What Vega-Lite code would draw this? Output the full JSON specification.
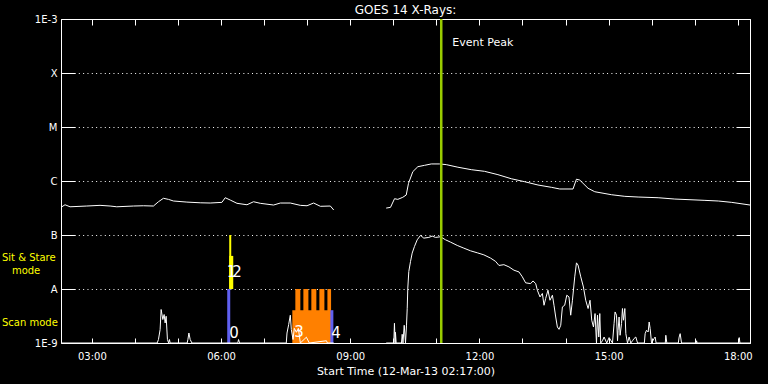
{
  "$schema": "https://vega.github.io/schema/vega-lite/v6.json",
  "width": 689,
  "height": 324,
  "autosize": "none",
  "padding": {"left": 61, "top": 19, "right": 18, "bottom": 41},
  "background": "black",
  "title": {"text": "GOES 14 X-Rays:", "color": "white", "font": "DejaVu Sans", "fontSize": 12, "fontWeight": "normal", "anchor": "middle", "offset": -3},
  "config": {
    "view": {"stroke": "white", "strokeWidth": 1, "fill": "black"},
    "axis": {"domain": false, "tickColor": "white", "tickWidth": 1, "labelColor": "white", "labelFont": "DejaVu Sans", "labelFontSize": 10, "titleColor": "white", "titleFont": "DejaVu Sans", "titleFontWeight": "normal", "titleFontSize": 11, "labelOverlap": false, "labelFlush": false, "labelBound": false}
  },
  "datasets": {
    "bars": [
      {"t": "2013-03-12T06:08:36Z", "t2": "2013-03-12T06:12:48Z", "v": 1e-9, "v2": 1e-8, "kind": "scan"},
      {"t": "2013-03-12T06:11:24Z", "t2": "2013-03-12T06:14:12Z", "v": 1e-8, "v2": 1e-7, "kind": "sit-stare"},
      {"t": "2013-03-12T06:11:24Z", "t2": "2013-03-12T06:17:00Z", "v": 1e-8, "v2": 4.1e-8, "kind": "sit-stare"},
      {"t": "2013-03-12T07:39:18Z", "t2": "2013-03-12T08:32:18Z", "v": 1e-9, "v2": 4.05e-9, "kind": "multi"},
      {"t": "2013-03-12T07:43:30Z", "t2": "2013-03-12T07:50:30Z", "v": 1e-9, "v2": 1e-8, "kind": "multi"},
      {"t": "2013-03-12T07:54:42Z", "t2": "2013-03-12T08:01:42Z", "v": 1e-9, "v2": 1e-8, "kind": "multi"},
      {"t": "2013-03-12T08:05:48Z", "t2": "2013-03-12T08:12:48Z", "v": 1e-9, "v2": 1e-8, "kind": "multi"},
      {"t": "2013-03-12T08:17:00Z", "t2": "2013-03-12T08:24:00Z", "v": 1e-9, "v2": 1e-8, "kind": "multi"},
      {"t": "2013-03-12T08:28:12Z", "t2": "2013-03-12T08:33:18Z", "v": 1e-9, "v2": 1e-8, "kind": "multi"},
      {"t": "2013-03-12T08:32:18Z", "t2": "2013-03-12T08:36:30Z", "v": 1e-9, "v2": 4.05e-9, "kind": "scan"}
    ],
    "flux": [
      {"t": "2013-03-12T02:17:00Z", "v": 3.25e-7, "seg": "long-1"},
      {"t": "2013-03-12T02:22:36Z", "v": 3.63e-7, "seg": "long-1"},
      {"t": "2013-03-12T02:29:36Z", "v": 3.33e-7, "seg": "long-1"},
      {"t": "2013-03-12T02:52:54Z", "v": 3.44e-7, "seg": "long-1"},
      {"t": "2013-03-12T03:11:24Z", "v": 3.54e-7, "seg": "long-1"},
      {"t": "2013-03-12T03:25:24Z", "v": 3.44e-7, "seg": "long-1"},
      {"t": "2013-03-12T03:34:42Z", "v": 3.33e-7, "seg": "long-1"},
      {"t": "2013-03-12T03:57:54Z", "v": 3.44e-7, "seg": "long-1"},
      {"t": "2013-03-12T04:11:48Z", "v": 3.48e-7, "seg": "long-1"},
      {"t": "2013-03-12T04:25:48Z", "v": 3.44e-7, "seg": "long-1"},
      {"t": "2013-03-12T04:32:48Z", "v": 4.13e-7, "seg": "long-1"},
      {"t": "2013-03-12T04:39:42Z", "v": 4.78e-7, "seg": "long-1"},
      {"t": "2013-03-12T04:46:42Z", "v": 4.57e-7, "seg": "long-1"},
      {"t": "2013-03-12T04:53:42Z", "v": 4.26e-7, "seg": "long-1"},
      {"t": "2013-03-12T05:12:24Z", "v": 4.07e-7, "seg": "long-1"},
      {"t": "2013-03-12T05:31:00Z", "v": 3.95e-7, "seg": "long-1"},
      {"t": "2013-03-12T05:44:54Z", "v": 3.91e-7, "seg": "long-1"},
      {"t": "2013-03-12T06:01:12Z", "v": 4.02e-7, "seg": "long-1"},
      {"t": "2013-03-12T06:05:48Z", "v": 4.90e-7, "seg": "long-1"},
      {"t": "2013-03-12T06:12:48Z", "v": 4.44e-7, "seg": "long-1"},
      {"t": "2013-03-12T06:22:12Z", "v": 3.86e-7, "seg": "long-1"},
      {"t": "2013-03-12T06:36:06Z", "v": 3.63e-7, "seg": "long-1"},
      {"t": "2013-03-12T06:45:18Z", "v": 4.13e-7, "seg": "long-1"},
      {"t": "2013-03-12T06:54:42Z", "v": 3.86e-7, "seg": "long-1"},
      {"t": "2013-03-12T07:13:12Z", "v": 3.59e-7, "seg": "long-1"},
      {"t": "2013-03-12T07:22:36Z", "v": 3.91e-7, "seg": "long-1"},
      {"t": "2013-03-12T07:36:30Z", "v": 3.91e-7, "seg": "long-1"},
      {"t": "2013-03-12T07:50:30Z", "v": 3.54e-7, "seg": "long-1"},
      {"t": "2013-03-12T07:59:48Z", "v": 3.48e-7, "seg": "long-1"},
      {"t": "2013-03-12T08:09:00Z", "v": 3.91e-7, "seg": "long-1"},
      {"t": "2013-03-12T08:18:24Z", "v": 3.40e-7, "seg": "long-1"},
      {"t": "2013-03-12T08:32:18Z", "v": 3.44e-7, "seg": "long-1"},
      {"t": "2013-03-12T08:37:00Z", "v": 2.90e-7, "seg": "long-1"},
      {"t": "2013-03-12T09:50:06Z", "v": 3.15e-7, "seg": "long-2"},
      {"t": "2013-03-12T09:56:06Z", "v": 3.25e-7, "seg": "long-2"},
      {"t": "2013-03-12T10:01:42Z", "v": 4.70e-7, "seg": "long-2"},
      {"t": "2013-03-12T10:06:18Z", "v": 4.57e-7, "seg": "long-2"},
      {"t": "2013-03-12T10:13:12Z", "v": 4.99e-7, "seg": "long-2"},
      {"t": "2013-03-12T10:18:00Z", "v": 5.50e-7, "seg": "long-2"},
      {"t": "2013-03-12T10:21:12Z", "v": 9.06e-7, "seg": "long-2"},
      {"t": "2013-03-12T10:27:12Z", "v": 1.49e-6, "seg": "long-2"},
      {"t": "2013-03-12T10:34:12Z", "v": 1.84e-6, "seg": "long-2"},
      {"t": "2013-03-12T10:43:30Z", "v": 1.95e-6, "seg": "long-2"},
      {"t": "2013-03-12T10:52:54Z", "v": 2.07e-6, "seg": "long-2"},
      {"t": "2013-03-12T11:04:24Z", "v": 2.07e-6, "seg": "long-2"},
      {"t": "2013-03-12T11:13:48Z", "v": 2.01e-6, "seg": "long-2"},
      {"t": "2013-03-12T11:30:00Z", "v": 1.80e-6, "seg": "long-2"},
      {"t": "2013-03-12T11:48:42Z", "v": 1.62e-6, "seg": "long-2"},
      {"t": "2013-03-12T12:07:12Z", "v": 1.51e-6, "seg": "long-2"},
      {"t": "2013-03-12T12:25:48Z", "v": 1.31e-6, "seg": "long-2"},
      {"t": "2013-03-12T12:44:30Z", "v": 1.10e-6, "seg": "long-2"},
      {"t": "2013-03-12T13:03:00Z", "v": 9.7e-7, "seg": "long-2"},
      {"t": "2013-03-12T13:21:36Z", "v": 8.43e-7, "seg": "long-2"},
      {"t": "2013-03-12T13:40:18Z", "v": 7.64e-7, "seg": "long-2"},
      {"t": "2013-03-12T13:51:54Z", "v": 7.11e-7, "seg": "long-2"},
      {"t": "2013-03-12T14:10:24Z", "v": 7.11e-7, "seg": "long-2"},
      {"t": "2013-03-12T14:15:12Z", "v": 1.08e-6, "seg": "long-2"},
      {"t": "2013-03-12T14:19:48Z", "v": 1.04e-6, "seg": "long-2"},
      {"t": "2013-03-12T14:31:24Z", "v": 7.33e-7, "seg": "long-2"},
      {"t": "2013-03-12T14:40:42Z", "v": 6.33e-7, "seg": "long-2"},
      {"t": "2013-03-12T15:04:00Z", "v": 5.57e-7, "seg": "long-2"},
      {"t": "2013-03-12T15:22:36Z", "v": 5.20e-7, "seg": "long-2"},
      {"t": "2013-03-12T15:41:06Z", "v": 5.05e-7, "seg": "long-2"},
      {"t": "2013-03-12T16:09:00Z", "v": 4.90e-7, "seg": "long-2"},
      {"t": "2013-03-12T16:32:18Z", "v": 4.63e-7, "seg": "long-2"},
      {"t": "2013-03-12T17:14:12Z", "v": 4.38e-7, "seg": "long-2"},
      {"t": "2013-03-12T17:32:48Z", "v": 4.26e-7, "seg": "long-2"},
      {"t": "2013-03-12T17:51:30Z", "v": 4.02e-7, "seg": "long-2"},
      {"t": "2013-03-12T18:17:00Z", "v": 3.59e-7, "seg": "long-2"},
      {"t": "2013-03-12T02:17:00Z", "v": 1e-9, "seg": "short-1"},
      {"t": "2013-03-12T04:31:00Z", "v": 1e-9, "seg": "short-1"},
      {"t": "2013-03-12T04:32:48Z", "v": 1.16e-9, "seg": "short-1"},
      {"t": "2013-03-12T04:35:06Z", "v": 1.77e-9, "seg": "short-1"},
      {"t": "2013-03-12T04:36:30Z", "v": 4.17e-9, "seg": "short-1"},
      {"t": "2013-03-12T04:38:54Z", "v": 2.72e-9, "seg": "short-1"},
      {"t": "2013-03-12T04:40:42Z", "v": 3.37e-9, "seg": "short-1"},
      {"t": "2013-03-12T04:42:06Z", "v": 2.35e-9, "seg": "short-1"},
      {"t": "2013-03-12T04:43:30Z", "v": 3.13e-9, "seg": "short-1"},
      {"t": "2013-03-12T04:45:18Z", "v": 1.16e-9, "seg": "short-1"},
      {"t": "2013-03-12T04:47:00Z", "v": 1e-9, "seg": "short-1"},
      {"t": "2013-03-12T04:48:06Z", "v": 1.16e-9, "seg": "short-1"},
      {"t": "2013-03-12T04:49:06Z", "v": 1e-9, "seg": "short-1"},
      {"t": "2013-03-12T05:12:48Z", "v": 1e-9, "seg": "short-1"},
      {"t": "2013-03-12T05:13:48Z", "v": 1.16e-9, "seg": "short-1"},
      {"t": "2013-03-12T05:15:12Z", "v": 1.53e-9, "seg": "short-1"},
      {"t": "2013-03-12T05:17:00Z", "v": 1.16e-9, "seg": "short-1"},
      {"t": "2013-03-12T05:19:24Z", "v": 1e-9, "seg": "short-1"},
      {"t": "2013-03-12T06:23:18Z", "v": 1e-9, "seg": "short-1"},
      {"t": "2013-03-12T06:24:24Z", "v": 1.16e-9, "seg": "short-1"},
      {"t": "2013-03-12T06:25:48Z", "v": 1e-9, "seg": "short-1"},
      {"t": "2013-03-12T07:30:54Z", "v": 1e-9, "seg": "short-1"},
      {"t": "2013-03-12T07:31:54Z", "v": 1.53e-9, "seg": "short-1"},
      {"t": "2013-03-12T07:34:12Z", "v": 2.19e-9, "seg": "short-1"},
      {"t": "2013-03-12T07:36:30Z", "v": 3.27e-9, "seg": "short-1"},
      {"t": "2013-03-12T07:37:54Z", "v": 1.77e-9, "seg": "short-1"},
      {"t": "2013-03-12T07:40:18Z", "v": 1.16e-9, "seg": "short-1"},
      {"t": "2013-03-12T07:42:06Z", "v": 1.87e-9, "seg": "short-1"},
      {"t": "2013-03-12T07:44:54Z", "v": 1.58e-9, "seg": "short-1"},
      {"t": "2013-03-12T07:47:42Z", "v": 1.87e-9, "seg": "short-1"},
      {"t": "2013-03-12T07:50:30Z", "v": 1e-9, "seg": "short-1"},
      {"t": "2013-03-12T07:58:54Z", "v": 1.28e-9, "seg": "short-1"},
      {"t": "2013-03-12T08:03:00Z", "v": 1e-9, "seg": "short-1"},
      {"t": "2013-03-12T08:26:48Z", "v": 1.1e-9, "seg": "short-1"},
      {"t": "2013-03-12T08:28:12Z", "v": 1e-9, "seg": "short-1"},
      {"t": "2013-03-12T08:37:00Z", "v": 1e-9, "seg": "short-1"},
      {"t": "2013-03-12T09:50:06Z", "v": 1e-9, "seg": "short-2"},
      {"t": "2013-03-12T10:00:42Z", "v": 1e-9, "seg": "short-2"},
      {"t": "2013-03-12T10:01:36Z", "v": 2.32e-9, "seg": "short-2"},
      {"t": "2013-03-12T10:02:36Z", "v": 1e-9, "seg": "short-2"},
      {"t": "2013-03-12T10:03:00Z", "v": 1.58e-9, "seg": "short-2"},
      {"t": "2013-03-12T10:04:00Z", "v": 1e-9, "seg": "short-2"},
      {"t": "2013-03-12T10:11:24Z", "v": 1e-9, "seg": "short-2"},
      {"t": "2013-03-12T10:12:24Z", "v": 1.45e-9, "seg": "short-2"},
      {"t": "2013-03-12T10:13:30Z", "v": 1e-9, "seg": "short-2"},
      {"t": "2013-03-12T10:15:12Z", "v": 2.13e-9, "seg": "short-2"},
      {"t": "2013-03-12T10:17:00Z", "v": 1e-9, "seg": "short-2"},
      {"t": "2013-03-12T10:18:24Z", "v": 2.14e-9, "seg": "short-2"},
      {"t": "2013-03-12T10:19:24Z", "v": 4.4e-9, "seg": "short-2"},
      {"t": "2013-03-12T10:20:12Z", "v": 1.04e-8, "seg": "short-2"},
      {"t": "2013-03-12T10:21:36Z", "v": 2.11e-8, "seg": "short-2"},
      {"t": "2013-03-12T10:24:00Z", "v": 3.24e-8, "seg": "short-2"},
      {"t": "2013-03-12T10:26:18Z", "v": 4.62e-8, "seg": "short-2"},
      {"t": "2013-03-12T10:29:30Z", "v": 6.14e-8, "seg": "short-2"},
      {"t": "2013-03-12T10:33:18Z", "v": 8.14e-8, "seg": "short-2"},
      {"t": "2013-03-12T10:37:54Z", "v": 9.84e-8, "seg": "short-2"},
      {"t": "2013-03-12T10:42:30Z", "v": 8.75e-8, "seg": "short-2"},
      {"t": "2013-03-12T10:49:30Z", "v": 9.02e-8, "seg": "short-2"},
      {"t": "2013-03-12T10:54:12Z", "v": 9.54e-8, "seg": "short-2"},
      {"t": "2013-03-12T10:58:48Z", "v": 9.02e-8, "seg": "short-2"},
      {"t": "2013-03-12T11:05:48Z", "v": 9.27e-8, "seg": "short-2"},
      {"t": "2013-03-12T11:12:48Z", "v": 8.14e-8, "seg": "short-2"},
      {"t": "2013-03-12T11:19:48Z", "v": 7.38e-8, "seg": "short-2"},
      {"t": "2013-03-12T11:29:06Z", "v": 6.41e-8, "seg": "short-2"},
      {"t": "2013-03-12T11:38:18Z", "v": 5.71e-8, "seg": "short-2"},
      {"t": "2013-03-12T11:47:42Z", "v": 5.09e-8, "seg": "short-2"},
      {"t": "2013-03-12T11:57:00Z", "v": 4.68e-8, "seg": "short-2"},
      {"t": "2013-03-12T12:06:12Z", "v": 4.29e-8, "seg": "short-2"},
      {"t": "2013-03-12T12:15:36Z", "v": 3.73e-8, "seg": "short-2"},
      {"t": "2013-03-12T12:22:36Z", "v": 3.24e-8, "seg": "short-2"},
      {"t": "2013-03-12T12:27:12Z", "v": 2.73e-8, "seg": "short-2"},
      {"t": "2013-03-12T12:34:06Z", "v": 2.82e-8, "seg": "short-2"},
      {"t": "2013-03-12T12:41:06Z", "v": 2.57e-8, "seg": "short-2"},
      {"t": "2013-03-12T12:48:06Z", "v": 2.23e-8, "seg": "short-2"},
      {"t": "2013-03-12T12:55:06Z", "v": 2.07e-8, "seg": "short-2"},
      {"t": "2013-03-12T12:59:48Z", "v": 1.68e-8, "seg": "short-2"},
      {"t": "2013-03-12T13:04:24Z", "v": 1.30e-8, "seg": "short-2"},
      {"t": "2013-03-12T13:11:24Z", "v": 1.26e-8, "seg": "short-2"},
      {"t": "2013-03-12T13:14:36Z", "v": 1.41e-8, "seg": "short-2"},
      {"t": "2013-03-12T13:18:24Z", "v": 1.26e-8, "seg": "short-2"},
      {"t": "2013-03-12T13:20:42Z", "v": 9.5e-9, "seg": "short-2"},
      {"t": "2013-03-12T13:24:24Z", "v": 7.13e-9, "seg": "short-2"},
      {"t": "2013-03-12T13:27:42Z", "v": 8.26e-9, "seg": "short-2"},
      {"t": "2013-03-12T13:30:00Z", "v": 5.0e-9, "seg": "short-2"},
      {"t": "2013-03-12T13:32:18Z", "v": 6.67e-9, "seg": "short-2"},
      {"t": "2013-03-12T13:35:30Z", "v": 9.5e-9, "seg": "short-2"},
      {"t": "2013-03-12T13:38:18Z", "v": 6.19e-9, "seg": "short-2"},
      {"t": "2013-03-12T13:41:42Z", "v": 7.67e-9, "seg": "short-2"},
      {"t": "2013-03-12T13:43:54Z", "v": 5.0e-9, "seg": "short-2"},
      {"t": "2013-03-12T13:46:18Z", "v": 3.03e-9, "seg": "short-2"},
      {"t": "2013-03-12T13:48:36Z", "v": 1.98e-9, "seg": "short-2"},
      {"t": "2013-03-12T13:50:54Z", "v": 1.79e-9, "seg": "short-2"},
      {"t": "2013-03-12T13:53:18Z", "v": 2.13e-9, "seg": "short-2"},
      {"t": "2013-03-12T13:55:36Z", "v": 4.66e-9, "seg": "short-2"},
      {"t": "2013-03-12T13:58:48Z", "v": 5.0e-9, "seg": "short-2"},
      {"t": "2013-03-12T14:01:42Z", "v": 7.67e-9, "seg": "short-2"},
      {"t": "2013-03-12T14:04:48Z", "v": 7.13e-9, "seg": "short-2"},
      {"t": "2013-03-12T14:07:12Z", "v": 3.27e-9, "seg": "short-2"},
      {"t": "2013-03-12T14:09:36Z", "v": 6.19e-9, "seg": "short-2"},
      {"t": "2013-03-12T14:12:48Z", "v": 1.68e-8, "seg": "short-2"},
      {"t": "2013-03-12T14:15:12Z", "v": 3.05e-8, "seg": "short-2"},
      {"t": "2013-03-12T14:17:24Z", "v": 2.77e-8, "seg": "short-2"},
      {"t": "2013-03-12T14:21:12Z", "v": 1.68e-8, "seg": "short-2"},
      {"t": "2013-03-12T14:24:54Z", "v": 1.09e-8, "seg": "short-2"},
      {"t": "2013-03-12T14:28:06Z", "v": 6.19e-9, "seg": "short-2"},
      {"t": "2013-03-12T14:31:24Z", "v": 4.35e-9, "seg": "short-2"},
      {"t": "2013-03-12T14:34:06Z", "v": 6.19e-9, "seg": "short-2"},
      {"t": "2013-03-12T14:36:30Z", "v": 2.64e-9, "seg": "short-2"},
      {"t": "2013-03-12T14:38:54Z", "v": 1.98e-9, "seg": "short-2"},
      {"t": "2013-03-12T14:41:06Z", "v": 3.51e-9, "seg": "short-2"},
      {"t": "2013-03-12T14:43:06Z", "v": 1e-9, "seg": "short-2"},
      {"t": "2013-03-12T14:44:30Z", "v": 3.27e-9, "seg": "short-2"},
      {"t": "2013-03-12T14:46:18Z", "v": 1.29e-9, "seg": "short-2"},
      {"t": "2013-03-12T14:47:42Z", "v": 3.51e-9, "seg": "short-2"},
      {"t": "2013-03-12T14:49:00Z", "v": 1e-9, "seg": "short-2"},
      {"t": "2013-03-12T14:51:24Z", "v": 1.1e-9, "seg": "short-2"},
      {"t": "2013-03-12T14:53:42Z", "v": 1.29e-9, "seg": "short-2"},
      {"t": "2013-03-12T14:57:24Z", "v": 1e-9, "seg": "short-2"},
      {"t": "2013-03-12T15:00:42Z", "v": 1.26e-9, "seg": "short-2"},
      {"t": "2013-03-12T15:05:24Z", "v": 1e-9, "seg": "short-2"},
      {"t": "2013-03-12T15:07:36Z", "v": 2.29e-9, "seg": "short-2"},
      {"t": "2013-03-12T15:09:00Z", "v": 3.76e-9, "seg": "short-2"},
      {"t": "2013-03-12T15:11:00Z", "v": 3.27e-9, "seg": "short-2"},
      {"t": "2013-03-12T15:12:24Z", "v": 1.1e-9, "seg": "short-2"},
      {"t": "2013-03-12T15:13:12Z", "v": 1.72e-9, "seg": "short-2"},
      {"t": "2013-03-12T15:14:36Z", "v": 3.03e-9, "seg": "short-2"},
      {"t": "2013-03-12T15:16:00Z", "v": 1.39e-9, "seg": "short-2"},
      {"t": "2013-03-12T15:18:00Z", "v": 2.29e-9, "seg": "short-2"},
      {"t": "2013-03-12T15:19:18Z", "v": 4.35e-9, "seg": "short-2"},
      {"t": "2013-03-12T15:20:42Z", "v": 2.64e-9, "seg": "short-2"},
      {"t": "2013-03-12T15:22:36Z", "v": 4.35e-9, "seg": "short-2"},
      {"t": "2013-03-12T15:24:00Z", "v": 1.49e-9, "seg": "short-2"},
      {"t": "2013-03-12T15:26:18Z", "v": 1e-9, "seg": "short-2"},
      {"t": "2013-03-12T15:28:36Z", "v": 1.29e-9, "seg": "short-2"},
      {"t": "2013-03-12T15:30:54Z", "v": 1e-9, "seg": "short-2"},
      {"t": "2013-03-12T15:33:18Z", "v": 1.1e-9, "seg": "short-2"},
      {"t": "2013-03-12T15:35:30Z", "v": 1.21e-9, "seg": "short-2"},
      {"t": "2013-03-12T15:37:54Z", "v": 1.29e-9, "seg": "short-2"},
      {"t": "2013-03-12T15:40:18Z", "v": 1e-9, "seg": "short-2"},
      {"t": "2013-03-12T15:49:48Z", "v": 1e-9, "seg": "short-2"},
      {"t": "2013-03-12T15:50:54Z", "v": 1.49e-9, "seg": "short-2"},
      {"t": "2013-03-12T15:52:48Z", "v": 1.72e-9, "seg": "short-2"},
      {"t": "2013-03-12T15:55:06Z", "v": 1.6e-9, "seg": "short-2"},
      {"t": "2013-03-12T15:56:30Z", "v": 2.45e-9, "seg": "short-2"},
      {"t": "2013-03-12T15:57:54Z", "v": 1.85e-9, "seg": "short-2"},
      {"t": "2013-03-12T15:59:48Z", "v": 1e-9, "seg": "short-2"},
      {"t": "2013-03-12T16:03:24Z", "v": 1.21e-9, "seg": "short-2"},
      {"t": "2013-03-12T16:04:48Z", "v": 1.29e-9, "seg": "short-2"},
      {"t": "2013-03-12T16:06:12Z", "v": 1e-9, "seg": "short-2"},
      {"t": "2013-03-12T16:19:00Z", "v": 1e-9, "seg": "short-2"},
      {"t": "2013-03-12T16:19:42Z", "v": 1.39e-9, "seg": "short-2"},
      {"t": "2013-03-12T16:21:06Z", "v": 1e-9, "seg": "short-2"},
      {"t": "2013-03-12T16:37:06Z", "v": 1e-9, "seg": "short-2"},
      {"t": "2013-03-12T16:38:18Z", "v": 1.29e-9, "seg": "short-2"},
      {"t": "2013-03-12T16:39:42Z", "v": 1.49e-9, "seg": "short-2"},
      {"t": "2013-03-12T16:41:36Z", "v": 1e-9, "seg": "short-2"},
      {"t": "2013-03-12T17:02:00Z", "v": 1e-9, "seg": "short-2"},
      {"t": "2013-03-12T17:02:36Z", "v": 1.1e-9, "seg": "short-2"},
      {"t": "2013-03-12T17:03:12Z", "v": 1e-9, "seg": "short-2"},
      {"t": "2013-03-12T18:01:36Z", "v": 1e-9, "seg": "short-2"},
      {"t": "2013-03-12T18:02:00Z", "v": 1.26e-9, "seg": "short-2"},
      {"t": "2013-03-12T18:03:00Z", "v": 1e-9, "seg": "short-2"},
      {"t": "2013-03-12T18:17:00Z", "v": 1e-9, "seg": "short-2"}
    ],
    "event": [{"t": "2013-03-12T11:06:48Z"}],
    "eventLabel": [{"t": "2013-03-12T11:22:06Z", "v": 3.63e-4, "label": "Event Peak"}],
    "nums": [
      {"t": "2013-03-12T06:11:24Z", "v": 1.53e-9, "label": "0"},
      {"t": "2013-03-12T06:07:54Z", "v": 2.07e-8, "label": "1"},
      {"t": "2013-03-12T06:15:36Z", "v": 2.07e-8, "label": "2"},
      {"t": "2013-03-12T07:42:06Z", "v": 1.6e-9, "label": "3"},
      {"t": "2013-03-12T08:33:42Z", "v": 1.55e-9, "label": "4"}
    ],
    "modes": [
      {"t": "2013-03-12T00:54:42Z", "v": 3.73e-8, "label": "Sit & Stare"},
      {"t": "2013-03-12T01:08:36Z", "v": 2.14e-8, "label": "mode"},
      {"t": "2013-03-12T00:54:42Z", "v": 2.32e-9, "label": "Scan mode"}
    ]
  },
  "layer": [
    {
      "data": {"name": "bars"},
      "mark": {"type": "rect"},
      "encoding": {
        "x": {"field": "t", "type": "temporal",
          "scale": {"type": "utc", "domain": [{"year": 2013, "month": 3, "date": 12, "hours": 2, "minutes": 17, "utc": true}, {"year": 2013, "month": 3, "date": 12, "hours": 18, "minutes": 17, "utc": true}]},
          "axis": {"orient": "bottom", "title": "Start Time (12-Mar-13 02:17:00)", "grid": false, "tickSize": -5, "labelPadding": 13, "titlePadding": 4,
            "values": [
              {"year": 2013, "month": 3, "date": 12, "hours": 3, "utc": true},
              {"year": 2013, "month": 3, "date": 12, "hours": 4, "utc": true},
              {"year": 2013, "month": 3, "date": 12, "hours": 5, "utc": true},
              {"year": 2013, "month": 3, "date": 12, "hours": 6, "utc": true},
              {"year": 2013, "month": 3, "date": 12, "hours": 7, "utc": true},
              {"year": 2013, "month": 3, "date": 12, "hours": 8, "utc": true},
              {"year": 2013, "month": 3, "date": 12, "hours": 9, "utc": true},
              {"year": 2013, "month": 3, "date": 12, "hours": 10, "utc": true},
              {"year": 2013, "month": 3, "date": 12, "hours": 11, "utc": true},
              {"year": 2013, "month": 3, "date": 12, "hours": 12, "utc": true},
              {"year": 2013, "month": 3, "date": 12, "hours": 13, "utc": true},
              {"year": 2013, "month": 3, "date": 12, "hours": 14, "utc": true},
              {"year": 2013, "month": 3, "date": 12, "hours": 15, "utc": true},
              {"year": 2013, "month": 3, "date": 12, "hours": 16, "utc": true},
              {"year": 2013, "month": 3, "date": 12, "hours": 17, "utc": true},
              {"year": 2013, "month": 3, "date": 12, "hours": 18, "utc": true}
            ],
            "labelExpr": "utchours(datum.value) % 3 == 0 ? utcFormat(datum.value, '%H:%M') : ''"}},
        "x2": {"field": "t2"},
        "y": {"field": "v", "type": "quantitative",
          "scale": {"type": "log", "domain": [1e-9, 1e-3], "nice": false},
          "axis": {"orient": "left", "title": null, "values": [1e-9, 1e-8, 1e-7, 1e-6, 1e-5, 1e-4, 1e-3], "tickSize": -14, "labelPadding": 18,
            "grid": true, "gridColor": "white", "gridOpacity": 1, "gridDash": [1, 3.33],
            "labelExpr": "['1E-9','A','B','C','M','X','1E-3'][round(log(datum.value)/LN10)+9]"}},
        "y2": {"field": "v2"},
        "color": {"field": "kind", "type": "nominal", "legend": null,
          "scale": {"domain": ["scan", "sit-stare", "multi"], "range": ["#6060f0", "#ffff00", "#ff8000"]}}
      }
    },
    {
      "data": {"name": "flux"},
      "mark": {"type": "line", "color": "white", "strokeWidth": 1, "clip": true},
      "encoding": {
        "x": {"field": "t", "type": "temporal",
          "scale": {"type": "utc", "domain": [{"year": 2013, "month": 3, "date": 12, "hours": 2, "minutes": 17, "utc": true}, {"year": 2013, "month": 3, "date": 12, "hours": 18, "minutes": 17, "utc": true}]},
          "axis": {"orient": "top", "title": null, "labels": false, "grid": false, "tickSize": -6,
            "values": [
              {"year": 2013, "month": 3, "date": 12, "hours": 3, "utc": true},
              {"year": 2013, "month": 3, "date": 12, "hours": 4, "utc": true},
              {"year": 2013, "month": 3, "date": 12, "hours": 5, "utc": true},
              {"year": 2013, "month": 3, "date": 12, "hours": 6, "utc": true},
              {"year": 2013, "month": 3, "date": 12, "hours": 7, "utc": true},
              {"year": 2013, "month": 3, "date": 12, "hours": 8, "utc": true},
              {"year": 2013, "month": 3, "date": 12, "hours": 9, "utc": true},
              {"year": 2013, "month": 3, "date": 12, "hours": 10, "utc": true},
              {"year": 2013, "month": 3, "date": 12, "hours": 11, "utc": true},
              {"year": 2013, "month": 3, "date": 12, "hours": 12, "utc": true},
              {"year": 2013, "month": 3, "date": 12, "hours": 13, "utc": true},
              {"year": 2013, "month": 3, "date": 12, "hours": 14, "utc": true},
              {"year": 2013, "month": 3, "date": 12, "hours": 15, "utc": true},
              {"year": 2013, "month": 3, "date": 12, "hours": 16, "utc": true},
              {"year": 2013, "month": 3, "date": 12, "hours": 17, "utc": true},
              {"year": 2013, "month": 3, "date": 12, "hours": 18, "utc": true}
            ]}},
        "y": {"field": "v", "type": "quantitative",
          "scale": {"type": "log", "domain": [1e-9, 1e-3], "nice": false},
          "axis": {"orient": "right", "title": null, "labels": false, "grid": false, "tickSize": -14, "values": [1e-9, 1e-8, 1e-7, 1e-6, 1e-5, 1e-4, 1e-3]}},
        "detail": {"field": "seg", "type": "nominal"}
      }
    },
    {
      "data": {"name": "event"},
      "mark": {"type": "rule", "color": "#99cc00", "strokeWidth": 2.5},
      "encoding": {
        "x": {"field": "t", "type": "temporal", "axis": null,
          "scale": {"type": "utc", "domain": [{"year": 2013, "month": 3, "date": 12, "hours": 2, "minutes": 17, "utc": true}, {"year": 2013, "month": 3, "date": 12, "hours": 18, "minutes": 17, "utc": true}]}}
      }
    },
    {
      "data": {"name": "eventLabel"},
      "mark": {"type": "text", "color": "white", "font": "DejaVu Sans", "fontSize": 11, "align": "left", "baseline": "middle"},
      "encoding": {
        "x": {"field": "t", "type": "temporal", "axis": null,
          "scale": {"type": "utc", "domain": [{"year": 2013, "month": 3, "date": 12, "hours": 2, "minutes": 17, "utc": true}, {"year": 2013, "month": 3, "date": 12, "hours": 18, "minutes": 17, "utc": true}]}},
        "y": {"field": "v", "type": "quantitative", "axis": null, "scale": {"type": "log", "domain": [1e-9, 1e-3], "nice": false}},
        "text": {"field": "label"}
      }
    },
    {
      "data": {"name": "nums"},
      "mark": {"type": "text", "color": "white", "font": "DejaVu Sans", "fontSize": 15, "align": "left", "baseline": "middle"},
      "encoding": {
        "x": {"field": "t", "type": "temporal", "axis": null,
          "scale": {"type": "utc", "domain": [{"year": 2013, "month": 3, "date": 12, "hours": 2, "minutes": 17, "utc": true}, {"year": 2013, "month": 3, "date": 12, "hours": 18, "minutes": 17, "utc": true}]}},
        "y": {"field": "v", "type": "quantitative", "axis": null, "scale": {"type": "log", "domain": [1e-9, 1e-3], "nice": false}},
        "text": {"field": "label"}
      }
    },
    {
      "data": {"name": "modes"},
      "mark": {"type": "text", "color": "#ffff00", "font": "DejaVu Sans", "fontSize": 10, "align": "left", "baseline": "middle"},
      "encoding": {
        "x": {"field": "t", "type": "temporal", "axis": null,
          "scale": {"type": "utc", "domain": [{"year": 2013, "month": 3, "date": 12, "hours": 2, "minutes": 17, "utc": true}, {"year": 2013, "month": 3, "date": 12, "hours": 18, "minutes": 17, "utc": true}]}},
        "y": {"field": "v", "type": "quantitative", "axis": null, "scale": {"type": "log", "domain": [1e-9, 1e-3], "nice": false}},
        "text": {"field": "label"}
      }
    }
  ],
  "resolve": {"axis": {"x": "independent", "y": "independent"}}
}
